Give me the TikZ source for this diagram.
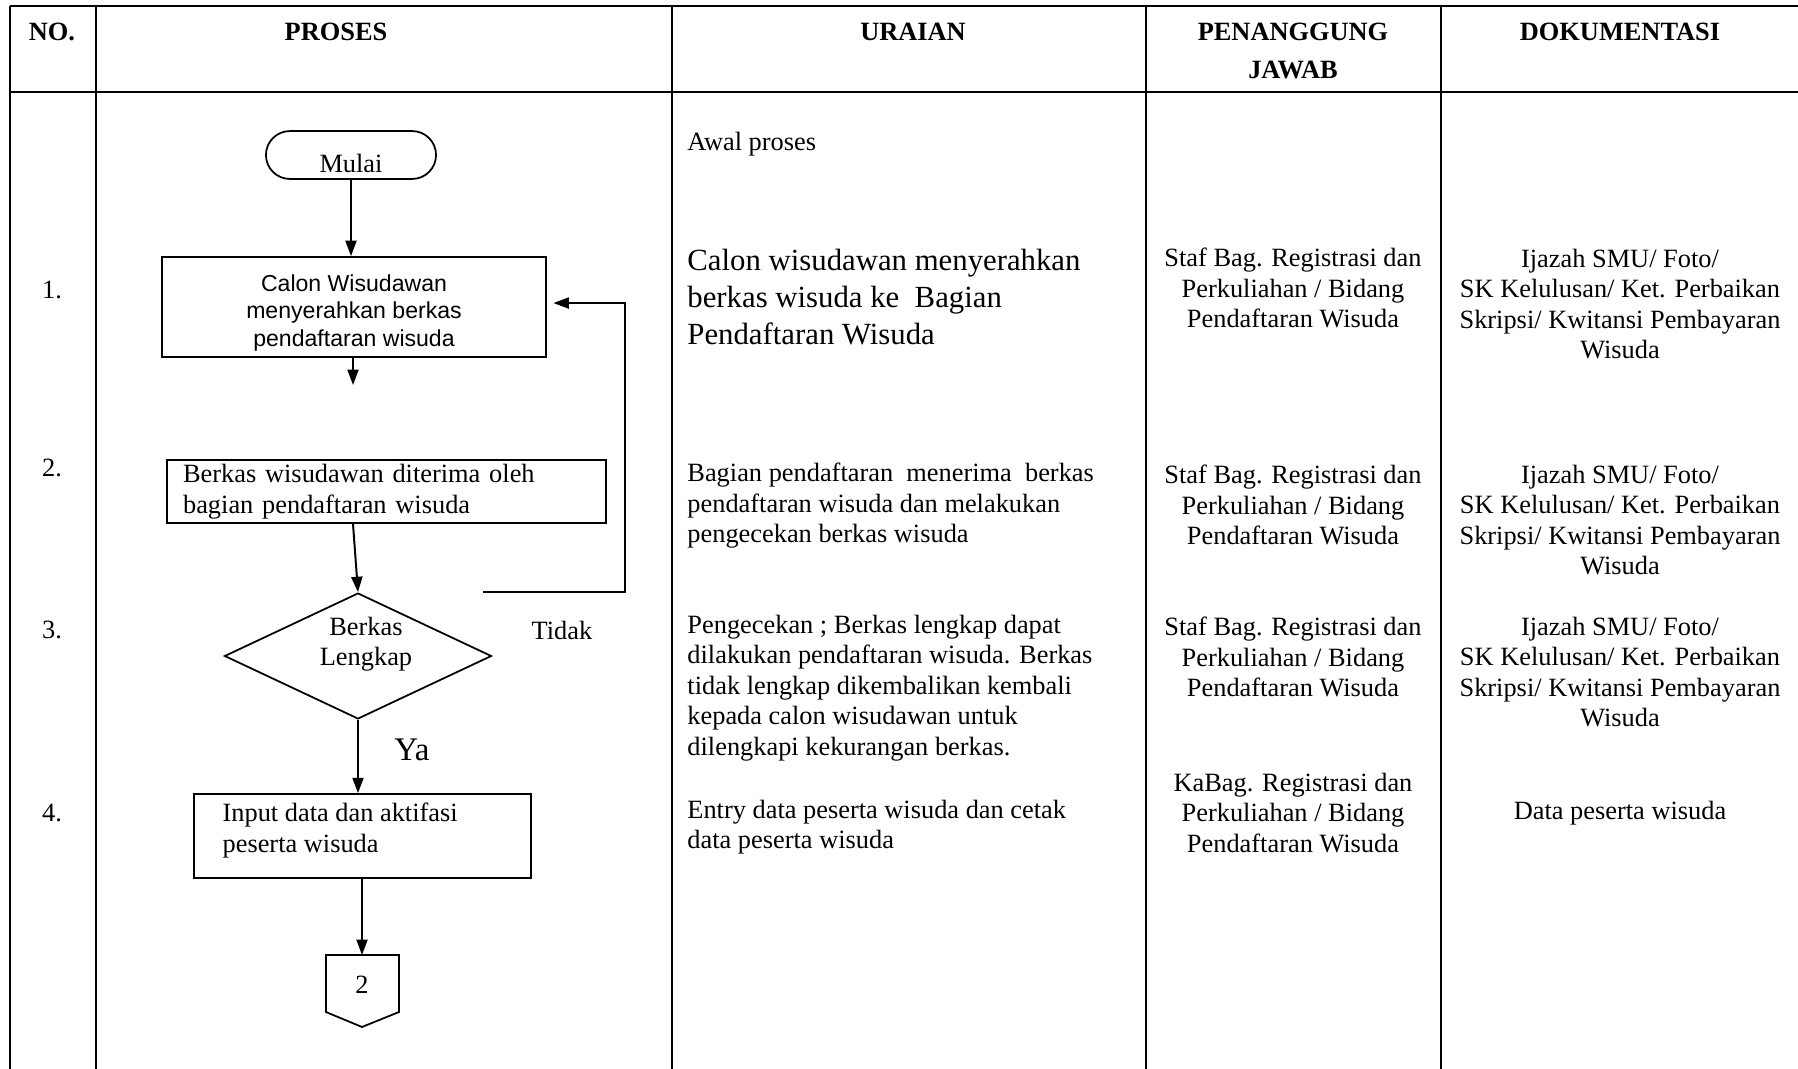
\documentclass[tikz,border=0pt]{standalone}
\usepackage{fontspec}
\setmainfont{Liberation Serif}
\newfontfamily\arialfont{Liberation Sans}
\usetikzlibrary{arrows.meta,shapes.geometric}

\begin{document}
\begin{tikzpicture}[x=0.455pt, y=-0.455pt,
    every node/.style={font=\fontsize{12}{13.9}\selectfont},
    garis/.style={line width=0.9pt},
    kepala/.style={inner sep=0pt, align=center, font=\fontsize{12}{17.3}\selectfont\bfseries},
    teks/.style={inner sep=0pt},
    prosesbox/.style={draw, line width=0.8pt, inner sep=0pt},
    flowarrow/.style={line width=0.9pt, -{Triangle[length=7pt,width=5pt]}}]
    \useasboundingbox (0,0) rectangle (1798,1069);
    \draw[line width=1.1pt] (10,6) -- (1798,6);
    \draw[line width=1.1pt] (10,92) -- (1798,92);
    \foreach \kol in {10,96,672,1146,1441}
        \draw[garis] (\kol,6) -- (\kol,1069);
    \node[kepala] (hno) at (52,32) {NO.};
    \node[kepala] (hproses) at (336,32) {PROSES};
    \node[kepala] (huraian) at (913,32) {URAIAN};
    \node[kepala] (hpj) at (1293,51) {PENANGGUNG\\JAWAB};
    \node[kepala] (hdok) at (1620,32) {DOKUMENTASI};
    \foreach \no/\y in {1/290,2/468,3/630,4/813}
        \node[teks] (no\no) at (52,\y) {\no.};
    % uraian
    \node[teks, anchor=west] (ur0) at (687,144) {Awal proses};
    \node[teks, anchor=west, align=left, font=\fontsize{14}{16.8}\selectfont] (ur1) at (687,297)
        {Calon wisudawan menyerahkan\\berkas wisuda ke~ Bagian\\Pendaftaran Wisuda};
    \node[teks, anchor=west, align=left] (ur2) at (687,506)
        {Bagian pendaftaran~ menerima~ berkas\\pendaftaran wisuda dan melakukan\\pengecekan berkas wisuda};
    \node[teks, anchor=west, align=left] (ur3) at (687,688)
        {Pengecekan ; Berkas lengkap dapat\\dilakukan pendaftaran wisuda. Berkas\\tidak lengkap dikembalikan kembali\\kepada calon wisudawan untuk\\dilengkapi kekurangan berkas.};
    \node[teks, anchor=west, align=left] (ur4) at (687,827)
        {Entry data peserta wisuda dan cetak\\data peserta wisuda};
    % penanggung jawab
    \foreach \nm/\y in {pj1/288,pj2/505,pj3/657}
        \node[teks, align=center] (\nm) at (1293,\y) {Staf Bag. Registrasi dan\\Perkuliahan / Bidang\\Pendaftaran Wisuda};
    \node[teks, align=center] (pj4) at (1293,813) {KaBag. Registrasi dan\\Perkuliahan / Bidang\\Pendaftaran Wisuda};
    % dokumentasi
    \foreach \nm/\y in {dok1/304,dok2/520,dok3/672}
        \node[teks, align=center] (\nm) at (1620,\y) {Ijazah SMU/ Foto/\\SK Kelulusan/ Ket. Perbaikan\\Skripsi/ Kwitansi Pembayaran\\Wisuda};
    \node[teks] (dok4) at (1620,813) {Data peserta wisuda};
    % proses
    \node[prosesbox, rounded corners=10.9pt, minimum width=77.4pt, minimum height=21.8pt] (mulai) at (351,155)
        {\raisebox{-8pt}[0pt][0pt]{Mulai}};
    \node[prosesbox, minimum width=174.7pt, minimum height=45.5pt] (box1) at (354,307) {};
    \node[teks, align=center, font=\arialfont\fontsize{10.5}{12.5}\selectfont] (box1txt)
        at ([yshift=-2.7pt]box1.center) {Calon Wisudawan\\menyerahkan berkas\\pendaftaran wisuda};
    \node[prosesbox, text width=185.1pt, inner xsep=7.3pt, minimum height=28.7pt, align=left] (box2) at (386.5,491.5)
        {Berkas wisudawan diterima oleh\\bagian pendaftaran wisuda};
    \node[draw, diamond, line width=0.8pt, minimum width=121.5pt, minimum height=57.3pt, inner sep=0pt] (cek) at (358,656) {};
    \node[teks, align=center] (cektxt) at (366,644) {Berkas\\Lengkap};
    \node[teks] (tidak) at (562,630) {Tidak};
    \node[teks, font=\fontsize{15}{18}\selectfont] (ya) at (412,750) {Ya};
    \node[prosesbox, minimum width=153.3pt, minimum height=38.2pt] (box4) at (362.5,836) {};
    \node[teks, anchor=west, align=left] (box4txt) at ([xshift=13.2pt, yshift=2.4pt]box4.west)
        {Input data dan aktifasi\\peserta wisuda};
    \node[teks] (hal) at (362,985) {2};
    \draw[line width=0.8pt] (326,955) -- (399,955) -- (399,1012) -- (362,1027) -- (326,1012) -- cycle;
    \coordinate (ujung1) at (353,385);
    \coordinate (balik) at (483,592);
    \coordinate (konektor) at (362,955);
    \draw[flowarrow] (mulai.south) -- (mulai.south |- box1.north);
    \draw[flowarrow] (ujung1 |- box1.south) -- (ujung1);
    \draw[flowarrow] (box2.south -| ujung1) -- (cek.north);
    \draw[flowarrow] (cek.south) -- (cek.south |- box4.north);
    \draw[flowarrow] (konektor |- box4.south) -- (konektor);
    \draw[flowarrow] (balik) -- ++(142,0) |- ([xshift=3pt, yshift=1.8pt]box1.east);
\end{tikzpicture}
\end{document}
